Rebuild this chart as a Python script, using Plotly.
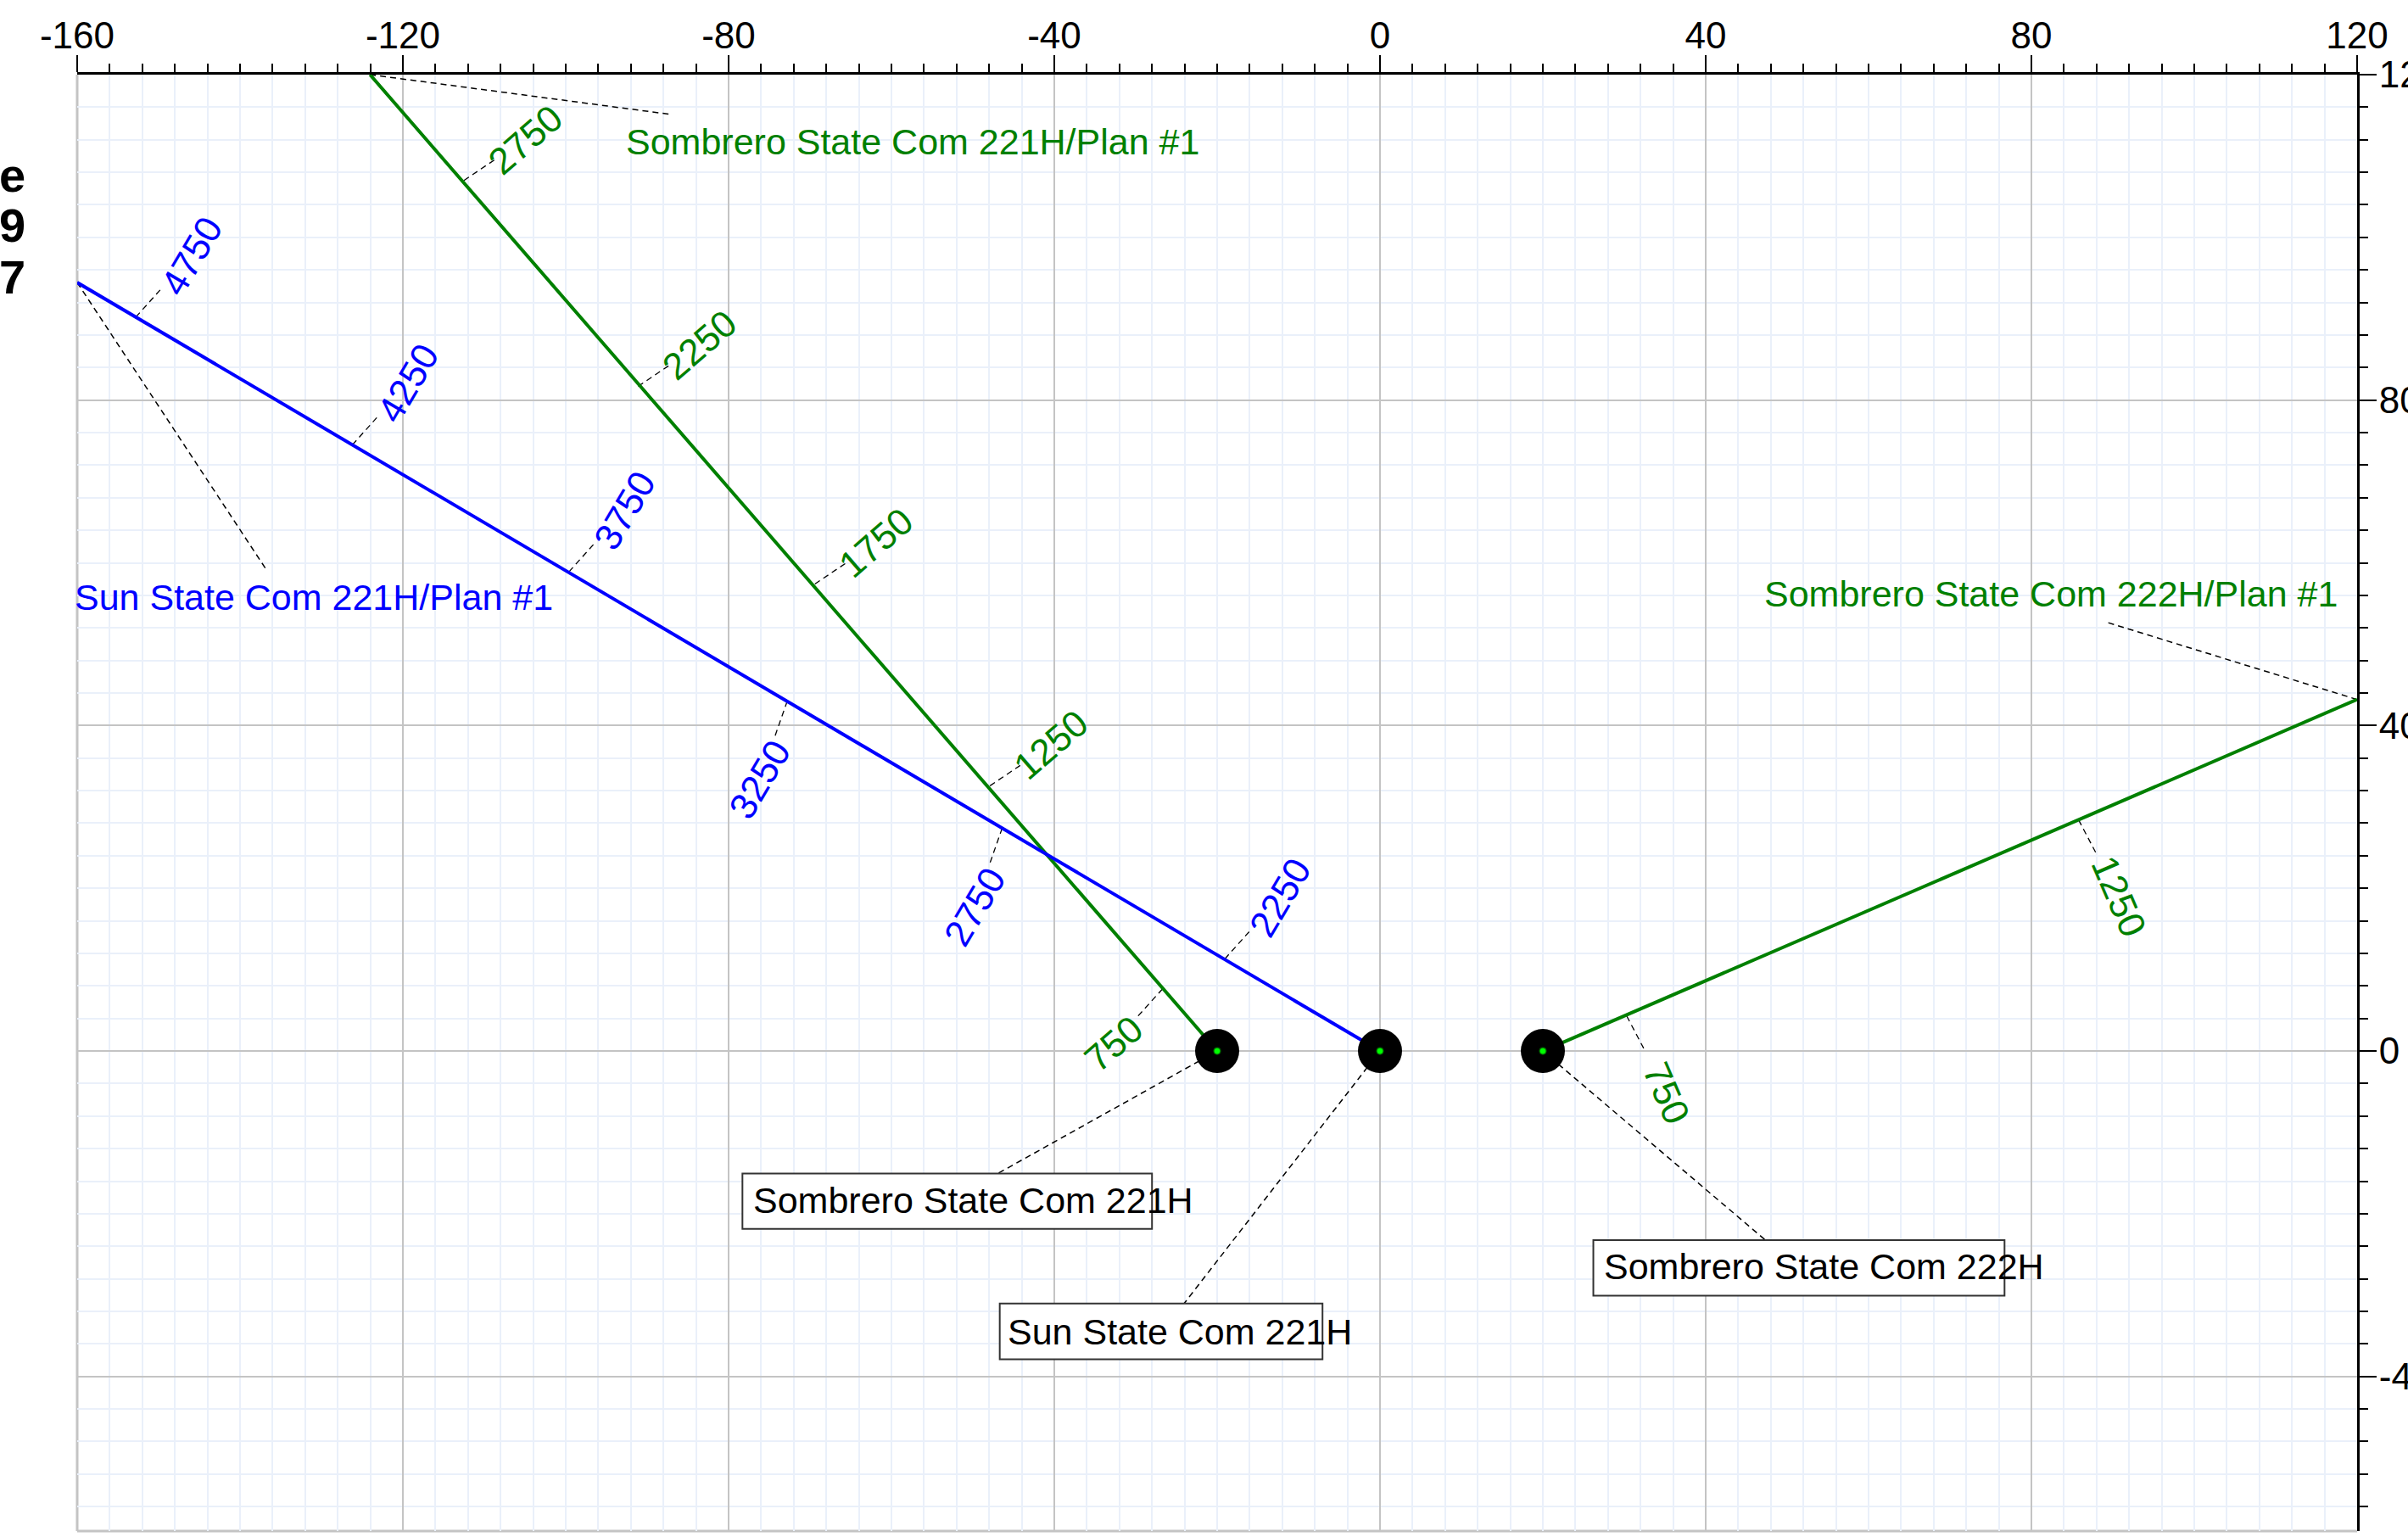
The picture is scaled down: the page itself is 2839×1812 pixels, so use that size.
import math
import plotly.graph_objects as go

# ---------------- data ----------------
x_tick_vals = [-160, -120, -80, -40, 0, 40, 80, 120]
x_tick_text = ["-160", "-120", "-80", "-40", "0", "40", "80", "120"]
y_tick_vals = [-40, 0, 40, 80, 120]
y_tick_text = ["-40", "0", "40", "80", "120"]

well_names = ["Sombrero State Com 221H", "Sun State Com 221H", "Sombrero State Com 222H"]
well_x = [-20, 0, 20]
well_y = [0, 0, 0]

plan_names = ["Sombrero State Com 221H/Plan #1", "Sun State Com 221H/Plan #1",
              "Sombrero State Com 222H/Plan #1"]

sombrero221_path_x = [-20, -124.04]
sombrero221_path_y = [0, 120]
sun221_path_x = [0, -160]
sun221_path_y = [0, 94.45]
sombrero222_path_x = [20, 120]
sombrero222_path_y = [0, 43.2]

sombrero221_md = [750, 1250, 1750, 2250, 2750]
sombrero221_md_x = [-26.7, -47.9, -69.4, -91.1, -112.5]
sombrero221_md_y = [7.64, 32.6, 57.4, 81.7, 107.0]
sombrero221_md_side = [-1, 1, 1, 1, 1]

sun221_md = [2250, 2750, 3250, 3750, 4250, 4750]
sun221_md_x = [-19.06, -46.4, -72.8, -99.6, -126.2, -152.8]
sun221_md_y = [11.32, 27.4, 43.0, 58.9, 74.5, 90.2]
sun221_md_side = [1, -1, -1, 1, 1, 1]

sombrero222_md = [750, 1250]
sombrero222_md_x = [30.3, 85.8]
sombrero222_md_y = [4.3, 28.4]
sombrero222_md_side = [1, 1]

# ---------------- styles ----------------
GREEN = "#008000"
BLUE = "#0000ff"
FONT = "Liberation Sans, Arial, sans-serif"
DASH = "7px,5px"
MAJOR_GRID = "#c4c4c4"
MINOR_GRID = "#eaf0fa"
PX_PER_UNIT = 9.6

paths = [
    dict(px=sombrero221_path_x, py=sombrero221_path_y, md=sombrero221_md, mx=sombrero221_md_x,
         my=sombrero221_md_y, side=sombrero221_md_side, color=GREEN, off_n=9.0, off_d=-1.1),
    dict(px=sun221_path_x, py=sun221_path_y, md=sun221_md, mx=sun221_md_x,
         my=sun221_md_y, side=sun221_md_side, color=BLUE, off_n=10.0, off_d=-2.0),
    dict(px=sombrero222_path_x, py=sombrero222_path_y, md=sombrero222_md, mx=sombrero222_md_x,
         my=sombrero222_md_y, side=sombrero222_md_side, color=GREEN, off_n=10.6, off_d=0.8),
]

# label layout (data coordinates)
plan_label_pos = [  # text left x, text centre y, leader end x, leader end y
    (-92.8, 111.8, -86.98, 115.1),
    (-160.56, 55.8, -136.8, 59.2),
    (46.96, 56.2, 89.25, 52.7),
]
plan_label_colors = [GREEN, BLUE, GREEN]
well_boxes = [  # x0, x1, y0, y1, text x, text y, leader x
    (-78.3, -28.0, -21.87, -15.05, -77.2, -18.35, -46.93),
    (-46.7, -7.06, -37.88, -31.04, -45.9, -34.5, -24.06),
    (26.2, 76.7, -30.06, -23.25, 27.3, -26.5, 47.35),
]

fig = go.Figure()


def dashed(x0, y0, x1, y1, width=1.5):
    fig.add_trace(go.Scatter(x=[x0, x1], y=[y0, y1], mode="lines",
                             line=dict(color="black", width=width, dash=DASH),
                             hoverinfo="skip", showlegend=False))


annotations = []

# well label leaders + boxes
for i, name in enumerate(well_names):
    x0, x1, y0, y1, tx, ty, lx = well_boxes[i]
    dashed(well_x[i], well_y[i], lx, y1)
    fig.add_shape(type="rect", x0=x0, x1=x1, y0=y0, y1=y1, xref="x", yref="y",
                  line=dict(color="#333333", width=2), fillcolor="white", layer="above")
    annotations.append(dict(x=tx, y=ty, xref="x", yref="y", text=name, showarrow=False,
                            xanchor="left", yanchor="middle",
                            font=dict(family=FONT, size=43, color="black")))

# plan label leaders
for i, p in enumerate(paths):
    tx, ty, lx, ly = plan_label_pos[i]
    dashed(p["px"][-1], p["py"][-1], lx, ly)
    xs = 0
    if tx < -160:
        xs = (tx + 160) * PX_PER_UNIT
        tx = -160
    annotations.append(dict(x=tx, y=ty, xref="x", yref="y", text=plan_names[i], showarrow=False,
                            xanchor="left", yanchor="middle", xshift=xs,
                            font=dict(family=FONT, size=43, color=plan_label_colors[i])))

# MD labels
for p in paths:
    dx = p["px"][-1] - p["px"][0]
    dy = p["py"][-1] - p["py"][0]
    L = math.hypot(dx, dy)
    ux, uy = dx / L, dy / L
    nx, ny = uy, -ux
    angle = -math.degrees(math.atan2(ny, nx))
    for md, mx, my, s in zip(p["md"], p["mx"], p["my"], p["side"]):
        cx = mx + s * p["off_n"] * nx + p["off_d"] * ux
        cy = my + s * p["off_n"] * ny + p["off_d"] * uy
        vx, vy = cx - mx, cy - my
        vl = math.hypot(vx, vy)
        dashed(mx, my, mx + 4.5 * vx / vl, my + 4.5 * vy / vl, width=1.3)
        annotations.append(dict(x=cx, y=cy, xref="x", yref="y", text=str(md), showarrow=False,
                                textangle=angle, xanchor="center", yanchor="middle",
                                font=dict(family=FONT, size=44, color=p["color"])))

# well paths
for p in paths:
    fig.add_trace(go.Scatter(x=p["px"], y=p["py"], mode="lines",
                             line=dict(color=p["color"], width=4),
                             hoverinfo="skip", showlegend=False))

# well heads
fig.add_trace(go.Scatter(x=well_x, y=well_y, mode="markers",
                         marker=dict(size=52, color="black"), hoverinfo="skip", showlegend=False))
fig.add_trace(go.Scatter(x=well_x, y=well_y, mode="markers",
                         marker=dict(size=8, color="#00ff00", line=dict(color="#006400", width=1.2)),
                         hoverinfo="skip", showlegend=False))

# clipped left-edge text
for ch, py in [("e", 206), ("9", 266), ("7", 326)]:
    annotations.append(dict(x=(32 - 91) / 2688, y=1 - (py - 88) / 1717, xref="paper", yref="paper",
                            text="<b>%s</b>" % ch, showarrow=False, xanchor="right", yanchor="middle",
                            font=dict(family=FONT, size=56, color="black")))

# left & bottom borders
fig.add_shape(type="line", xref="paper", yref="paper", x0=0, x1=0, y0=0, y1=1,
              line=dict(color=MAJOR_GRID, width=3), layer="below")
fig.add_shape(type="line", xref="paper", yref="paper", x0=0, x1=1, y0=0, y1=0,
              line=dict(color=MAJOR_GRID, width=3), layer="below")

axis_common = dict(
    tickmode="array", ticks="outside", ticklen=20, tickwidth=2, tickcolor="black",
    showline=True, linecolor="black", linewidth=3, automargin=False,
    showgrid=True, gridcolor=MAJOR_GRID, gridwidth=2, zeroline=False,
    tickfont=dict(family=FONT, size=44, color="black"),
    minor=dict(tickmode="linear", tick0=0, dtick=4, ticks="outside", ticklen=10, tickwidth=1.5,
               tickcolor="black", showgrid=True, gridcolor=MINOR_GRID, gridwidth=1.5),
    fixedrange=True,
)

fig.update_layout(
    width=2839, height=1812,
    margin=dict(l=91, r=60, t=88, b=7, pad=0, autoexpand=False),
    plot_bgcolor="white", paper_bgcolor="white",
    showlegend=False,
    font=dict(family=FONT, size=42, color="black"),
    xaxis=dict(range=[-160, 120], side="top", tickvals=x_tick_vals, ticktext=x_tick_text,
               ticklabelstandoff=-10, **axis_common),
    yaxis=dict(range=[-59, 120], side="right", tickvals=y_tick_vals, ticktext=y_tick_text,
               ticklabelstandoff=-6, **axis_common),
    annotations=annotations,
)

fig.write_html("out.html", config={"displayModeBar": False},
               post_script="document.body.style.margin='0';document.body.style.overflow='hidden';")
